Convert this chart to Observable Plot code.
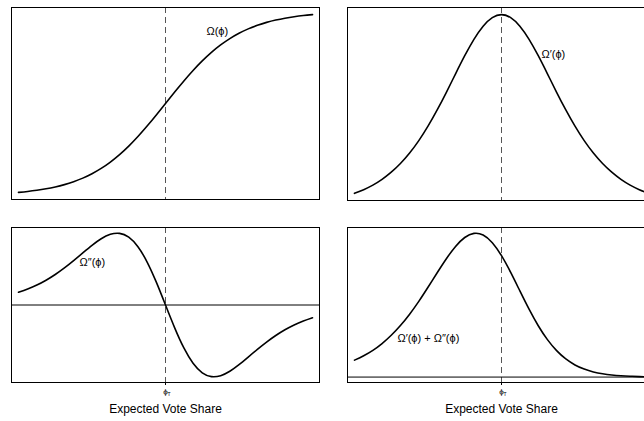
<!DOCTYPE html>
<html><head><meta charset="utf-8">
<script src="https://cdn.jsdelivr.net/npm/d3@7"></script>
<script src="https://cdn.jsdelivr.net/npm/@observablehq/plot@0.6"></script>
<style>
html,body{margin:0;padding:0;background:#fff;overflow:hidden;width:644px;height:421px}
#chart{position:relative;width:644px;height:421px;overflow:hidden}
#chart svg{position:absolute;left:0;top:0;max-width:none !important}
</style></head><body><div id="chart"></div>
<script>
// expected vote share (relative to threshold φT)
const share = [-4, -3.75, -3.5, -3.25, -3, -2.75, -2.5, -2.25, -2, -1.75, -1.5, -1.25, -1, -0.75, -0.5, -0.25, 0,
  0.25, 0.5, 0.75, 1, 1.25, 1.5, 1.75, 2, 2.25, 2.5, 2.75, 3, 3.25, 3.5, 3.75, 4];
// Ω(φ)
const omega = [0.0180, 0.0230, 0.0293, 0.0373, 0.0474, 0.0601, 0.0759, 0.0953, 0.1192, 0.1480, 0.1824, 0.2227, 0.2689, 0.3208, 0.3775, 0.4378, 0.5,
  0.5622, 0.6225, 0.6792, 0.7311, 0.7773, 0.8176, 0.8520, 0.8808, 0.9047, 0.9241, 0.9399, 0.9526, 0.9627, 0.9707, 0.9770, 0.9820];
// Ω'(φ)
const omega1 = [0.0177, 0.0225, 0.0284, 0.0359, 0.0452, 0.0565, 0.0701, 0.0862, 0.1050, 0.1261, 0.1491, 0.1731, 0.1966, 0.2179, 0.2350, 0.2461, 0.25,
  0.2461, 0.2350, 0.2179, 0.1966, 0.1731, 0.1491, 0.1261, 0.1050, 0.0862, 0.0701, 0.0565, 0.0452, 0.0359, 0.0284, 0.0225, 0.0177];
// Ω''(φ)
const omega2 = [0.0171, 0.0215, 0.0267, 0.0332, 0.0409, 0.0497, 0.0595, 0.0698, 0.0800, 0.0888, 0.0947, 0.0960, 0.0909, 0.0781, 0.0576, 0.0306, 0,
  -0.0306, -0.0576, -0.0781, -0.0909, -0.0960, -0.0947, -0.0888, -0.0800, -0.0698, -0.0595, -0.0497, -0.0409, -0.0332, -0.0267, -0.0215, -0.0171];
// Ω'(φ) + Ω''(φ)
const omegaSum = [0.0348, 0.0440, 0.0551, 0.0691, 0.0861, 0.1062, 0.1296, 0.1560, 0.1850, 0.2149, 0.2438, 0.2691, 0.2875, 0.2960, 0.2926, 0.2767, 0.25,
  0.2155, 0.1774, 0.1398, 0.1057, 0.0771, 0.0544, 0.0373, 0.0250, 0.0164, 0.0106, 0.0068, 0.0043, 0.0027, 0.0017, 0.0010, 0.0006];

const curveLabels = ["Ω(ϕ)", "Ω′(ϕ)", "Ω″(ϕ)", "Ω′(ϕ) + Ω″(ϕ)"];
const thresholdTick = "ϕ";
const thresholdSub = "T";
const xTitle = "Expected Vote Share";

const W = 660, H = 421;
const font = "'Liberation Sans', Arial, Helvetica, sans-serif";

function panel(o) {
  const marks = [
    Plot.ruleX([0], {stroke: "#555", strokeWidth: 1, strokeDasharray: "6,4"}),
  ];
  if (o.zero) marks.push(Plot.ruleY([0], {stroke: "#000", strokeWidth: 1}));
  marks.push(Plot.line(share, {x: share, y: o.values, curve: "natural", stroke: "#000", strokeWidth: 1.6}));
  marks.push(Plot.text([o.label], {x: o.lx, y: o.ly, text: d => d, fontSize: 11, fill: "#000", textAnchor: "middle"}));
  marks.push(Plot.frame({stroke: "#000", strokeWidth: 1}));
  if (o.axis) {
    marks.push(Plot.axisX([0], {tickSize: 3, tickFormat: () => thresholdTick, fontSize: 8, tickPadding: 3, label: null, stroke: "#000", fill: "#000"}));
    marks.push(Plot.text([thresholdSub], {x: 0, frameAnchor: "bottom", dy: 13, dx: 3.5, fontSize: 5, fill: "#000", text: d => d}));
    marks.push(Plot.text([xTitle], {frameAnchor: "bottom", dy: 30, fontSize: 12, fill: "#000", text: d => d}));
  }
  const svg = Plot.plot({
    width: W, height: H,
    marginLeft: o.ml, marginRight: o.mr, marginTop: o.mt, marginBottom: o.mb,
    style: {background: "transparent", fontFamily: font, overflow: "visible", maxWidth: "none"},
    x: {domain: [-4.19, 4.19], axis: o.axis ? undefined : null},
    y: {domain: o.yDomain, axis: null},
    marks
  });
  document.getElementById("chart").appendChild(svg);
}

panel({ml: 11, mr: W - 319, mt: 7, mb: H - 199, values: omega, yDomain: [-0.0206, 1.0206], label: curveLabels[0], lx: 1.41, ly: 0.89});
panel({ml: 347, mr: W - 655, mt: 7, mb: H - 200, values: omega1, yDomain: [0.0084, 0.2593], label: curveLabels[1], lx: 1.41, ly: 0.198});
panel({ml: 11, mr: W - 319, mt: 227, mb: H - 382, values: omega2, yDomain: [-0.1039, 0.1039], label: curveLabels[2], lx: -1.99, ly: 0.057, zero: true, axis: true});
panel({ml: 347, mr: W - 655, mt: 227, mb: H - 382, values: omegaSum, yDomain: [-0.0112, 0.3081], label: curveLabels[3], lx: -1.99, ly: 0.0794, zero: true, axis: true});
</script></body></html>
